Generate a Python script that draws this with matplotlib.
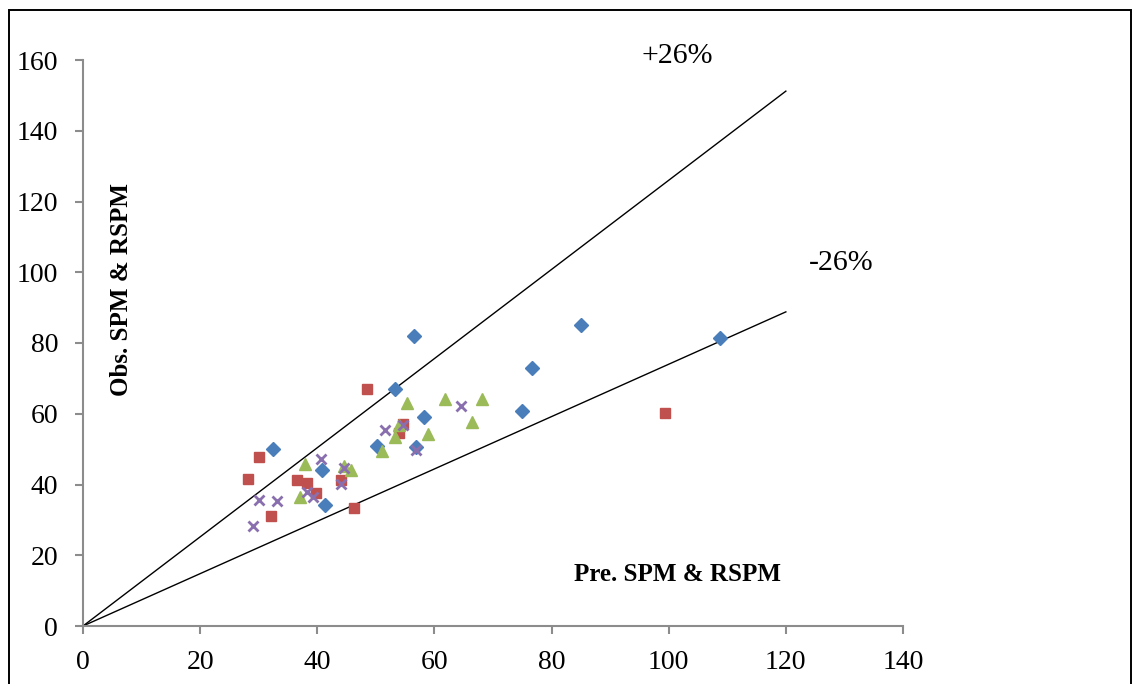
import matplotlib
matplotlib.use("Agg")
import matplotlib.pyplot as plt
from matplotlib.patches import Rectangle

# ---- data ----
blue_x = [56.5, 53.3, 58.2, 32.4, 50.2, 56.8, 40.8, 41.3, 85.0, 76.6, 74.9, 108.7]
blue_y = [82.0, 66.9, 59.1, 50.1, 50.8, 50.6, 44.2, 34.1, 85.0, 72.9, 60.9, 81.3]

red_x = [48.5, 30.0, 28.2, 36.6, 38.2, 39.7, 44.0, 32.1, 46.2, 54.6, 53.9, 99.3]
red_y = [67.0, 47.7, 41.6, 41.4, 40.5, 37.6, 41.4, 31.2, 33.4, 57.1, 54.6, 60.2]

green_x = [55.4, 61.8, 68.1, 66.4, 58.9, 53.3, 53.9, 51.1, 37.9, 44.5, 45.7, 37.1]
green_y = [63.1, 64.2, 64.2, 57.6, 54.4, 53.5, 56.7, 49.4, 45.9, 45.1, 44.2, 36.4]

purple_x = [64.5, 51.5, 54.7, 56.8, 40.6, 44.5, 44.1, 38.3, 39.3, 30.1, 33.1, 29.1]
purple_y = [62.1, 55.3, 56.9, 49.7, 47.2, 44.8, 40.1, 37.9, 36.5, 35.6, 35.2, 28.2]

# +/-26% envelope lines
line_x = [0, 120]
upper_y = [0, 120 * 1.26]
lower_y = [0, 120 * 0.74]

x_ticks = [0, 20, 40, 60, 80, 100, 120, 140]
y_ticks = [0, 20, 40, 60, 80, 100, 120, 140, 160]

plt.rcParams['font.family'] = ['Liberation Serif', 'DejaVu Serif']

fig = plt.figure(figsize=(11.33, 6.84), dpi=100)
ax = fig.add_axes([83 / 1133, 58 / 684, 820 / 1133, 566 / 684])

# outer chart border (bottom edge falls off the picture)
fig.patches.append(Rectangle((9 / 1133, -0.05), 1122 / 1133, 0.05 + 674 / 684,
                             transform=fig.transFigure, fill=False,
                             edgecolor='black', linewidth=1.4, clip_on=False))

ax.plot(line_x, upper_y, color='black', lw=1.0, zorder=2)
ax.plot(line_x, lower_y, color='black', lw=1.0, zorder=2)

ax.plot(blue_x, blue_y, ls='none', marker='D', ms=7, color='#4a7ebb', zorder=3)
ax.plot(red_x, red_y, ls='none', marker='s', ms=7.5, color='#c0504d', zorder=3)
ax.plot(green_x, green_y, ls='none', marker='^', ms=8.5, color='#9bbb59', zorder=3)
ax.plot(purple_x, purple_y, ls='none', marker='x', ms=7.5, mew=2, color='#8a6fae', zorder=4)

ax.set_xlim(0, 140)
ax.set_ylim(0, 160)
ax.set_xticks(x_ticks)
ax.set_yticks(y_ticks)

for s in ['top', 'right']:
    ax.spines[s].set_visible(False)
for s in ['left', 'bottom']:
    ax.spines[s].set_color('#8c8c8c')
    ax.spines[s].set_linewidth(1.5)
ax.tick_params(direction='out', length=6, width=1.5, color='#8c8c8c',
               labelsize=20)
ax.tick_params(axis='y', pad=12)
ax.tick_params(axis='x', pad=11)

ax.text(101.5, 161, '+26%', fontsize=21.5, ha='center', va='center', clip_on=False)
ax.text(129.5, 102.5, '-26%', fontsize=21.5, ha='center', va='center', clip_on=False)

ax.text(6.6, 95, 'Obs. SPM & RSPM', rotation=90, fontsize=18, fontweight='bold',
        ha='center', va='center')
ax.text(101.5, 14.5, 'Pre. SPM & RSPM', fontsize=18, fontweight='bold',
        ha='center', va='center')

fig.savefig('out.png', dpi=100)
